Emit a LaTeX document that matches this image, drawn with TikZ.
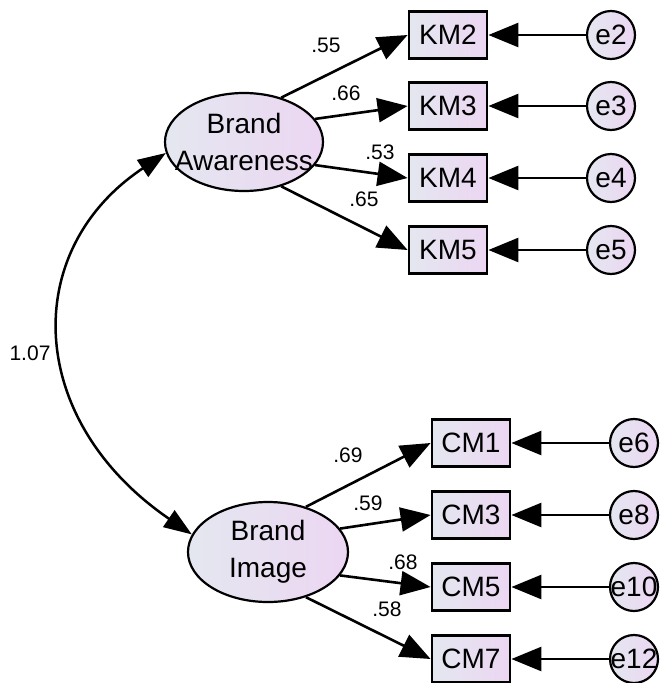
\documentclass[tikz,border=0pt]{standalone}
\usepackage{fontspec}
\setmainfont{Liberation Sans}
\usetikzlibrary{arrows.meta,shapes.geometric}

\definecolor{shadeA}{RGB}{228,231,240}
\definecolor{shadeB}{RGB}{236,214,242}

\tikzset{
  gradfill/.style={left color=shadeA, right color=shadeB},
  latent/.style={ellipse, draw, line width=2.2pt, gradfill,
    minimum width=158pt, minimum height=98pt, inner sep=0pt},
  observed/.style={rectangle, draw, line width=2.8pt, gradfill,
    minimum width=78pt, minimum height=47pt, inner sep=0pt},
  errterm/.style={circle, draw, line width=2.2pt, gradfill,
    minimum size=48pt, inner sep=0pt},
  bigtxt/.style={font=\fontsize{28}{37}\selectfont, inner sep=0pt, align=center},
  coef/.style={font=\fontsize{21}{24}\selectfont, inner sep=0pt},
  path/.style={line width=2.6pt, -{Triangle[length=30pt,width=24pt]}},
  corr/.style={line width=2.5pt, {Triangle[length=28pt,width=20pt]}-{Triangle[length=28pt,width=20pt]}}
}

\begin{document}
\begin{tikzpicture}[x=1pt,y=-1pt]
\useasboundingbox (0,0) rectangle (660,683);

% latent variables
\node[latent] (BA) at (244,142) {};
\node[bigtxt] (BAt) at (BA.center) {Brand\\Awareness};
\node[latent, minimum width=160pt, minimum height=100pt] (BI) at (268,552) {};
\node[bigtxt] (BIt) at (BI.center) {Brand\\Image};

% indicators of Brand Awareness
\foreach \n/\y in {2/35,3/106,4/178,5/250}{
  \node[observed] (KM\n) at (448,\y) {};
  \node[bigtxt] at (KM\n.center) {KM\n};
  \node[errterm] (e\n) at (611,\y) {};
  \node[bigtxt] at (e\n.center) {e\n};
  \draw[path] (e\n) -- (KM\n);
}

% indicators of Brand Image
\foreach \n/\e/\y in {1/6/443,3/8/515,5/10/587,7/12/659}{
  \node[observed] (CM\n) at (471,\y) {};
  \node[bigtxt] at (CM\n.center) {CM\n};
  \node[errterm] (e\e) at (634,\y) {};
  \node[bigtxt] at (e\e.center) {e\e};
  \draw[path] (e\e) -- (CM\n);
}

% loadings
\draw[path] (BA.50)  -- (KM2.west);
\draw[path] (BA.18)  -- (KM3.west);
\draw[path] (BA.-18) -- (KM4.west);
\draw[path] (BA.-50) -- (KM5.west);
\draw[path] (BI.50)  -- (CM1.west);
\draw[path] (BI.18)  -- (CM3.west);
\draw[path] (BI.-18) -- (CM5.west);
\draw[path] (BI.-50) -- (CM7.west);

\node[coef] (c55) at (326,45)  {.55};
\node[coef] (c66) at (346,93)  {.66};
\node[coef] (c53) at (380,152) {.53};
\node[coef] (c65) at (364,199) {.65};
\node[coef] (c69) at (348,455) {.69};
\node[coef] (c59) at (368,503) {.59};
\node[coef] (c68) at (403,562) {.68};
\node[coef] (c58) at (387,609) {.58};

% covariance between the two factors
\draw[corr] (BA.188) .. controls (20,250) and (25,420) .. (BI.167);
\node[coef] (cov) at (30,353) {1.07};
\end{tikzpicture}
\end{document}
